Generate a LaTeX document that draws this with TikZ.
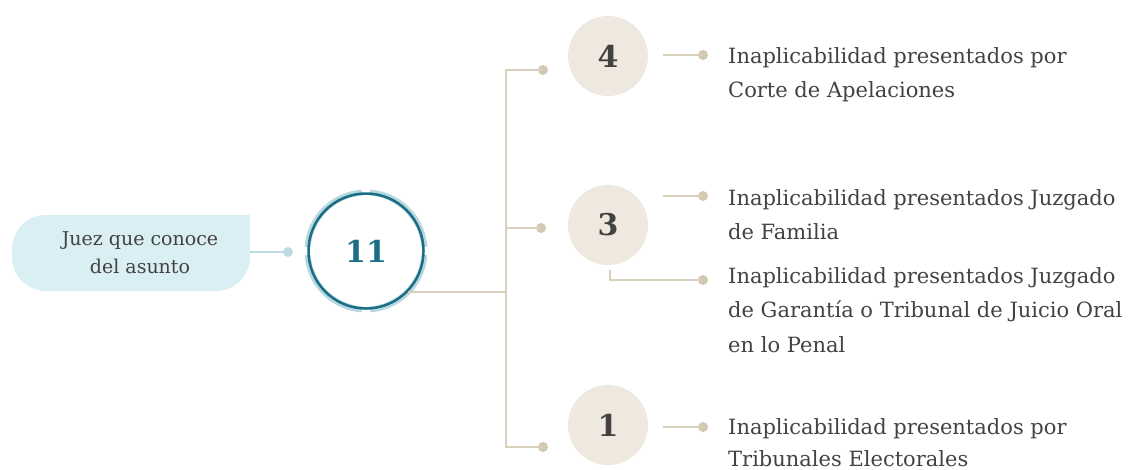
\documentclass[tikz,border=0pt]{standalone}
\usepackage{fontspec}
\setmainfont{DejaVu Serif}
\definecolor{bline}{HTML}{D8CFBD}
\definecolor{bdotc}{HTML}{D3C8B2}
\definecolor{numfill}{HTML}{EEE8DF}
\definecolor{juezfill}{HTML}{DAEFF4}
\definecolor{juezline}{HTML}{BBDCE3}
\definecolor{tealdark}{HTML}{1B6E86}
\definecolor{teallight}{HTML}{B8D8E0}
\definecolor{textgray}{HTML}{424242}
\newcommand\mlines[1]{\begin{tabular}[t]{@{}l@{}}#1\end{tabular}}
\newcommand\mclines[1]{\begin{tabular}[t]{@{}c@{}}#1\end{tabular}}
\tikzset{
  beigeline/.style={draw=bline, line width=2.8pt},
  bluelinestyle/.style={draw=juezline, line width=2.8pt},
  bdot/.style={circle, fill=bdotc, minimum size=10pt, inner sep=0pt},
  blued/.style={circle, fill=juezline, minimum size=10pt, inner sep=0pt},
  numc/.style={circle, fill=numfill, minimum size=80pt, inner sep=0pt, text=textgray,
    font=\fontsize{30}{30}\selectfont\bfseries},
  rtxt/.style={anchor=base west, inner sep=0pt, text=textgray,
    font=\fontsize{21}{34.5}\selectfont},
  rtxtb/.style={rtxt, font=\fontsize{21}{32.5}\selectfont},
  ltxt/.style={anchor=base, inner sep=0pt, text=textgray,
    font=\fontsize{19}{28}\selectfont},
}
\begin{document}
\begin{tikzpicture}[x=1pt,y=-1pt]
\useasboundingbox (0,0) rectangle (1134,469);
\clip (0,0) rectangle (1134,469);

% left box
\fill[juezfill, rounded corners=34pt] (12,215) rectangle (250,291);
\fill[juezfill] (200,215) rectangle (250,250);
\coordinate (jueze) at (250,252);
\node[ltxt] (juez) at (140,245) {\mclines{Juez que conoce\\del asunto}};
\node[blued] (jdot) at (288,252) {};
\draw[bluelinestyle] (jueze) -- (jdot.center);

% central circle
\node[circle, minimum size=115pt, inner sep=0pt,
  text=tealdark, font=\fontsize{30}{30}\selectfont\bfseries] (c11) at (366,251) {11};
\foreach \k in {0,1,2,3}{
  \draw[teallight, line width=6pt]
    ([shift={(\k*90+4:58.5)}]c11.center) arc[start angle=\k*90+4, end angle=\k*90+86, radius=58.5];
}
\draw[tealdark, line width=2.5pt] (c11.center) circle[radius=57.5];

% number circles
\node[numc] (n4) at (608,56) {4};
\node[numc] (n3) at (608,225) {3};
\node[numc] (n1) at (608,425) {1};

% spine
\coordinate (c11o) at (408,292);
\coordinate (j11) at (506,292);
\coordinate (jt) at (506,70);
\coordinate (jm) at (506,228);
\coordinate (jb) at (506,447);
\node[bdot] (d4l) at (543,70) {};
\node[bdot] (d3l) at (541,228) {};
\node[bdot] (d1l) at (543,447) {};
\draw[beigeline] (c11o) -- (j11);
\draw[beigeline] (d4l.center) -- (jt) -- (jb) -- (d1l.center);
\draw[beigeline] (jm) -- (d3l.center);

% right connectors
\coordinate (r4s) at (663,55);
\node[bdot] (r4d) at (703,55) {};
\draw[beigeline] (r4s) -- (r4d.center);
\coordinate (r3s) at (663,196);
\node[bdot] (r3d) at (703,196) {};
\draw[beigeline] (r3s) -- (r3d.center);
\coordinate (r3bs) at (610,270);
\node[bdot] (r3bd) at (703,280) {};
\draw[beigeline] (r3bs) |- (r3bd.center);
\coordinate (r1s) at (663,427);
\node[bdot] (r1d) at (703,427) {};
\draw[beigeline] (r1s) -- (r1d.center);

% texts
\node[rtxt] (t4) at (728,63) {\mlines{Inaplicabilidad presentados por\\Corte de Apelaciones}};
\node[rtxt] (t3a) at (728,205) {\mlines{Inaplicabilidad presentados Juzgado\\de Familia}};
\node[rtxt] (t3b) at (728,283) {\mlines{Inaplicabilidad presentados Juzgado\\de Garantía o Tribunal de Juicio Oral\\en lo Penal}};
\node[rtxtb] (t1) at (728,434) {\mlines{Inaplicabilidad presentados por\\Tribunales Electorales}};
\end{tikzpicture}
\end{document}
